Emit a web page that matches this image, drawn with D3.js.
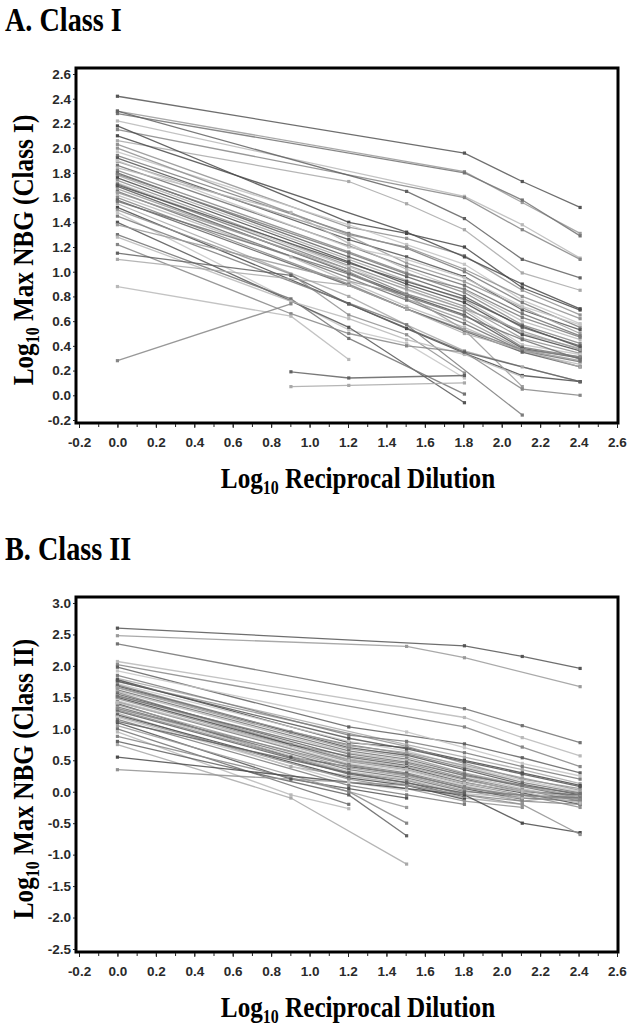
<!DOCTYPE html>
<html>
<head>
<meta charset="utf-8">
<script src="https://cdn.jsdelivr.net/npm/d3@7"></script>
<style>
  body { margin: 0; background: #fff; }
  svg { display: block; }
  .tick text { font-family: "Liberation Sans", Arial, sans-serif; font-weight: bold; font-size: 13.5px; fill: #2a2a2a; }
  .tick line { stroke: #222; }
  .domain { display: none; }
  .title, .axis-title { font-family: "Liberation Serif", "Times New Roman", serif; font-weight: bold; fill: #000; }
</style>
</head>
<body>
<svg id="chart" width="632" height="1027"></svg>
<script>
// log10 reciprocal dilution for each sample column
const dilutions = [0, 0.903, 1.204, 1.505, 1.806, 2.107, 2.408];

const xTicks = d3.range(-2, 27, 2).map((d) => d / 10);
const xMinor = d3.range(-2, 27, 1).map((d) => d / 10);
const yTicksI = d3.range(-2, 27, 2).map((d) => d / 10);
const yTicksII = d3.range(-25, 31, 5).map((d) => d / 10);

// Class I, one row per sample (null = not measured)
const classI = [
  [2.42, null, null, null, 1.96, 1.73, 1.52],
  [2.30, null, null, null, 1.81, 1.56, 1.31],
  [2.28, null, null, null, 1.80, 1.58, 1.29],
  [2.22, null, null, null, 1.61, 1.38, 1.11],
  [2.15, null, null, null, 1.60, 1.34, 1.10],
  [2.30, null, null, 1.65, 1.43, 1.10, 0.95],
  [2.06, null, 1.73, 1.55, 1.34, 0.99, 0.85],
  [2.18, null, 1.40, 1.31, 1.20, 0.87, 0.69],
  [2.03, null, 1.36, 1.27, 1.13, 0.85, 0.65],
  [1.97, null, 1.38, 1.22, 1.06, 0.77, 0.58],
  [1.94, null, 1.31, 1.19, 1.00, 0.75, 0.55],
  [1.92, null, 1.26, 1.12, 0.96, 0.69, 0.53],
  [1.89, null, 1.29, 1.07, 0.92, 0.71, 0.50],
  [1.86, null, 1.21, 1.04, 0.89, 0.66, 0.48],
  [1.84, 1.48, 1.23, 1.02, 0.85, 0.60, 0.45],
  [1.82, null, 1.16, 0.99, 0.83, 0.57, 0.42],
  [1.80, null, 1.12, 0.96, 0.80, 0.55, 0.40],
  [1.78, null, 1.10, 0.93, 0.77, 0.50, 0.38],
  [1.76, null, 1.08, 0.90, 0.75, 0.49, 0.36],
  [1.74, null, 1.05, 0.88, 0.72, 0.46, 0.34],
  [1.72, null, 1.04, 0.85, 0.70, 0.41, 0.33],
  [1.71, null, 1.02, 0.82, 0.68, 0.39, 0.31],
  [1.69, null, 0.99, 0.81, 0.65, 0.38, 0.30],
  [1.67, null, 1.00, 0.78, 0.61, 0.37, 0.28],
  [1.65, null, 0.95, 0.77, 0.58, 0.36, 0.27],
  [1.62, 1.12, 0.92, 0.72, 0.55, 0.35, 0.25],
  [1.60, null, 0.90, 0.70, 0.53, 0.37, 0.31],
  [1.58, null, 0.89, 0.70, 0.52, 0.35, 0.23],
  [1.55, null, 0.80, 0.57, 0.36, 0.23, 0.11],
  [1.52, null, 0.74, 0.54, 0.34, 0.16, 0.11],
  [1.50, 0.98, 0.65, 0.49, 0.18, null, null],
  [1.48, null, 0.53, 0.42, 0.14, null, null],
  [1.45, null, null, 0.57, null, -0.16, null],
  [1.40, null, 0.55, null, -0.06, null, null],
  [1.38, null, null, 0.81, 0.53, 0.07, null],
  [1.30, 0.78, 0.46, null, 0.01, null, null],
  [1.28, 0.76, 0.62, 0.45, 0.33, 0.15, null],
  [1.22, 0.66, 0.50, 0.40, 0.35, 0.05, 0.00],
  [1.15, 0.97, 0.74, null, 0.35, null, 0.11],
  [1.10, null, 0.89, 0.70, 0.50, null, 0.23],
  [2.10, null, null, 1.32, 1.12, 0.90, 0.70],
  [2.00, null, 1.30, 1.20, 1.02, 0.80, 0.62],
  [1.90, null, 1.20, 1.10, 0.95, 0.72, 0.57],
  [1.79, null, 1.15, 0.98, 0.86, 0.63, 0.47],
  [1.70, null, 1.07, 0.92, 0.78, 0.56, 0.39],
  [1.64, null, 1.02, 0.86, 0.70, 0.52, 0.37],
  [1.57, null, 0.98, 0.80, 0.64, 0.45, 0.29],
  [0.88, 0.64, 0.29, null, null, null, null],
  [0.28, 0.74, null, null, null, null, null],
  [null, 0.19, 0.14, null, 0.16, null, null],
  [null, 0.07, 0.08, null, 0.10, null, null],
];

// Class II, one row per sample (null = not measured)
const classII = [
  [2.60, null, null, null, 2.32, 2.15, 1.96],
  [2.48, null, null, 2.31, 2.13, null, 1.67],
  [2.35, null, null, null, 1.32, 1.05, 0.78],
  [2.07, null, null, null, 1.18, 0.86, 0.57],
  [2.02, null, null, null, 1.03, 0.71, 0.40],
  [1.98, null, 1.03, null, 0.76, 0.54, 0.30],
  [1.80, null, null, 0.75, 0.55, 0.35, 0.13],
  [1.78, null, 0.78, 0.70, 0.50, 0.30, 0.10],
  [1.75, null, null, 0.72, 0.45, 0.20, 0.05],
  [1.72, null, 0.80, 0.65, 0.40, 0.18, 0.00],
  [1.70, 0.95, 0.75, 0.60, 0.38, 0.15, -0.02],
  [1.68, null, 0.70, 0.58, 0.35, 0.12, -0.05],
  [1.65, null, 0.68, 0.55, 0.30, 0.10, -0.08],
  [1.62, null, 0.65, 0.52, 0.28, 0.08, -0.10],
  [1.60, null, 0.62, 0.50, 0.25, 0.05, -0.12],
  [1.58, 0.75, 0.57, 0.45, 0.22, 0.03, -0.15],
  [1.55, null, 0.55, 0.42, 0.20, 0.00, -0.05],
  [1.53, null, 0.52, 0.40, 0.18, 0.02, -0.10],
  [1.50, null, 0.50, 0.38, 0.15, -0.02, -0.20],
  [1.48, null, 0.48, 0.35, 0.12, -0.05, -0.25],
  [1.45, null, 0.45, 0.33, 0.10, -0.08, null],
  [1.43, null, 0.43, 0.30, 0.08, -0.10, -0.15],
  [1.40, 0.55, 0.40, 0.28, 0.05, -0.12, null],
  [1.38, null, 0.38, 0.25, 0.02, -0.15, -0.05],
  [1.35, null, 0.35, 0.22, 0.00, -0.05, -0.10],
  [1.33, null, 0.32, 0.20, -0.03, -0.10, null],
  [1.30, null, 0.30, 0.18, -0.05, -0.15, -0.20],
  [1.28, null, 0.28, 0.15, -0.08, null, null],
  [1.25, 0.40, 0.25, 0.12, -0.10, -0.20, null],
  [1.22, null, 0.22, 0.10, -0.12, null, null],
  [1.20, null, 0.20, 0.05, -0.15, -0.25, null],
  [1.18, null, 0.15, 0.02, null, null, null],
  [1.15, null, 0.10, -0.05, -0.20, null, null],
  [1.10, 0.20, 0.05, -0.10, null, null, null],
  [1.05, null, 0.00, -0.25, null, null, null],
  [1.00, null, -0.20, null, null, null, null],
  [0.95, -0.05, -0.27, null, null, null, null],
  [0.88, null, 0.00, -0.50, null, null, null],
  [0.80, null, -0.05, -0.70, null, null, null],
  [0.75, -0.10, null, -1.15, null, null, null],
  [0.55, null, null, null, -0.05, -0.50, -0.65],
  [0.35, null, null, 0.10, null, -0.20, -0.68],
  [1.92, null, null, 0.95, 0.70, 0.45, 0.25],
  [1.85, null, 0.90, 0.80, 0.62, 0.40, 0.20],
  [1.76, null, 0.85, 0.68, 0.48, 0.28, 0.08],
  [1.66, null, 0.73, 0.62, 0.42, 0.22, 0.02],
  [1.52, null, 0.60, 0.47, 0.26, 0.10, -0.03],
  [1.42, null, 0.50, 0.36, 0.14, 0.00, -0.18],
  [1.32, null, 0.42, 0.27, 0.06, -0.06, -0.12],
  [1.12, null, 0.30, 0.14, -0.02, null, null],
];

const shades = ["#555", "#9a9a9a", "#727272", "#b8b8b8", "#868686", "#616161",
  "#a8a8a8", "#4a4a4a", "#919191", "#c4c4c4", "#7b7b7b"];

const svg = d3.select("#chart");

function drawPanel(opts) {
  const g = svg.append("g").attr("transform", `translate(0,${opts.dy})`);
  const x = d3.scaleLinear().domain([-0.2, 2.6]).range([79, 617]);
  const y = d3.scaleLinear().domain(opts.yDomain).range([420, 74]);

  // panel title
  g.append("text")
    .attr("class", "title")
    .attr("transform", "translate(5,31) scale(0.83,1)")
    .attr("font-size", 34)
    .text(opts.title);

  const line = d3
    .line()
    .x((d) => x(d.x))
    .y((d) => y(d.y));

  const series = opts.data.map((row, i) => ({
    color: shades[i % shades.length],
    pts: dilutions
      .map((dx, j) => ({ x: dx, y: row[j] }))
      .filter((p) => p.y !== null),
  }));

  g.selectAll(".series")
    .data(series)
    .enter()
    .append("path")
    .attr("d", (d) => line(d.pts))
    .attr("fill", "none")
    .attr("stroke", (d) => d.color)
    .attr("stroke-opacity", 0.85)
    .attr("stroke-width", 1.3);

  series.forEach((s) => {
    g.selectAll(null)
      .data(s.pts)
      .enter()
      .append("rect")
      .attr("x", (d) => x(d.x) - 1.6)
      .attr("y", (d) => y(d.y) - 1.6)
      .attr("width", 3.2)
      .attr("height", 3.2)
      .attr("fill", s.color);
  });

  // frame
  g.append("rect")
    .attr("x", 76)
    .attr("y", 68)
    .attr("width", 542)
    .attr("height", 355)
    .attr("fill", "none")
    .attr("stroke", "#000")
    .attr("stroke-width", 3);

  const fmt = (d) => d.toFixed(1);

  g.append("g")
    .attr("transform", "translate(0,424)")
    .call(d3.axisBottom(x).tickValues(xMinor).tickSize(3).tickFormat(""));
  g.append("g")
    .attr("transform", "translate(0,424)")
    .call(d3.axisBottom(x).tickValues(xTicks).tickSize(4).tickPadding(9).tickFormat(fmt));

  g.append("g")
    .attr("transform", "translate(75,0)")
    .call(d3.axisLeft(y).tickValues(opts.yTicks).tickSize(2).tickPadding(2).tickFormat(fmt));

  // x axis title
  const xt = g.append("text")
    .attr("class", "axis-title")
    .attr("transform", "translate(358,488) scale(0.84,1)")
    .attr("text-anchor", "middle")
    .attr("font-size", 30);
  xt.append("tspan").text("Log");
  xt.append("tspan").attr("font-size", 19).attr("dy", 6).text("10");
  xt.append("tspan").attr("dy", -6).text(" Reciprocal Dilution");

  // y axis title
  const yt = g.append("text")
    .attr("class", "axis-title")
    .attr("transform", "translate(33,250) rotate(-90) scale(0.84,1)")
    .attr("text-anchor", "middle")
    .attr("font-size", 30);
  yt.append("tspan").text("Log");
  yt.append("tspan").attr("font-size", 19).attr("dy", 6).text("10");
  yt.append("tspan").attr("dy", -6).text(` Max NBG (${opts.cls})`);
}

drawPanel({ dy: 0, title: "A. Class I", cls: "Class I", yDomain: [-0.2, 2.6], yTicks: yTicksI, data: classI });
drawPanel({ dy: 529, title: "B. Class II", cls: "Class II", yDomain: [-2.5, 3.0], yTicks: yTicksII, data: classII });
</script>
</body>
</html>
